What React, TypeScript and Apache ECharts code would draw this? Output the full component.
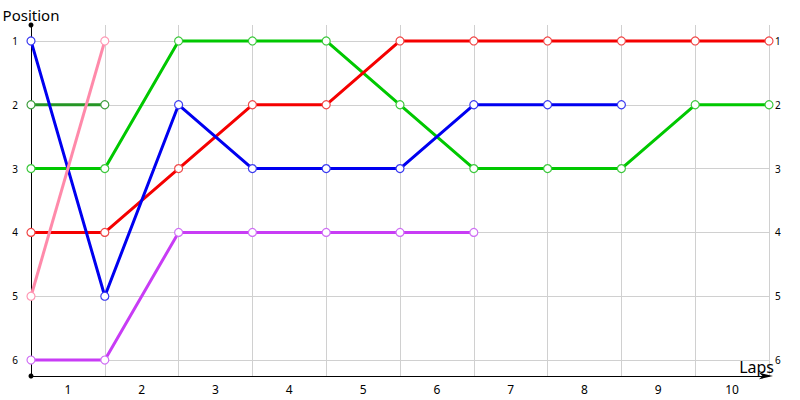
import React, { useEffect, useRef } from 'react';
import * as echarts from 'echarts';

const laps = ['1', '2', '3', '4', '5', '6', '7', '8', '9', '10'];
const positions = [1, 2, 3, 4, 5, 6];

// position after each lap boundary (index 0 = start)
const greenPos = [3, 3, 1, 1, 1, 2, 3, 3, 3, 2, 2];
const darkGreenPos = [2, 2];
const redPos = [4, 4, 3, 2, 2, 1, 1, 1, 1, 1, 1];
const bluePos = [1, 5, 2, 3, 3, 3, 2, 2, 2];
const purplePos = [6, 6, 4, 4, 4, 4, 4];
const pinkPos = [5, 1];

const FONT = 'Noto Sans';

function makeLine(name: string, vals: number[], color: string, dot: string) {
  return {
    name,
    type: 'line',
    xAxisIndex: 0,
    yAxisIndex: 0,
    data: vals.map((v, i) => [i, v]),
    symbol: 'circle',
    symbolSize: 8,
    lineStyle: { color, width: 3 },
    itemStyle: { color: '#fff', borderColor: dot, borderWidth: 1.2 },
    emphasis: { disabled: true },
  };
}

export default function App() {
  const ref = useRef<HTMLDivElement>(null);
  useEffect(() => {
    document.body.style.margin = '0';
    if (!ref.current) return;
    const chart = echarts.init(ref.current, null, { renderer: 'svg' });
    const yBase = {
      type: 'value',
      min: 0.75,
      max: 6.25,
      inverse: true,
      axisTick: { show: false, customValues: positions },
    };
    chart.setOption({
      animation: false,
      grid: { left: 31, right: 31, top: 25, bottom: 24, outerBoundsMode: 'none' },
      xAxis: [
        {
          type: 'value',
          min: 0,
          max: 10,
          interval: 1,
          position: 'bottom',
          name: 'Laps',
          nameLocation: 'end',
          nameGap: 5,
          nameMoveOverlap: false,
          nameTextStyle: {
            fontFamily: FONT,
            fontSize: 16,
            color: '#000',
            align: 'right',
            verticalAlign: 'bottom',
            padding: [0, 0, 1, 0],
          },
          axisLine: {
            lineStyle: { color: '#000', width: 1 },
            symbol: ['none', 'arrow'],
            symbolSize: [5, 14],
            symbolOffset: [0, 4],
          },
          axisTick: { show: false },
          axisLabel: { show: false },
          splitLine: { show: true, lineStyle: { color: '#d0d0d0', width: 1 } },
        },
        {
          type: 'category',
          data: laps,
          position: 'bottom',
          boundaryGap: true,
          axisLine: { show: false },
          axisTick: { show: false },
          splitLine: { show: false },
          axisLabel: { color: '#000', fontFamily: FONT, fontSize: 12, margin: 7 },
        },
      ],
      yAxis: [
        {
          ...yBase,
          position: 'left',
          name: 'Position',
          nameLocation: 'start',
          nameGap: 10,
          nameMoveOverlap: false,
          nameTextStyle: {
            fontFamily: FONT,
            fontSize: 15,
            color: '#000',
            verticalAlign: 'middle',
          },
          axisLine: {
            show: true,
            lineStyle: { color: '#000', width: 1 },
            symbol: ['circle', 'circle'],
            symbolSize: [5, 5],
          },
          axisLabel: {
            customValues: positions,
            color: '#000',
            fontFamily: FONT,
            fontSize: 10,
            margin: 13,
          },
          splitLine: { show: true, lineStyle: { color: '#d0d0d0', width: 1 } },
        },
        {
          ...yBase,
          position: 'right',
          axisLine: { show: false },
          axisLabel: {
            customValues: positions,
            color: '#000',
            fontFamily: FONT,
            fontSize: 10,
            margin: 6,
          },
          splitLine: { show: false },
        },
      ],
      series: [
        makeLine('Green', greenPos, '#00c800', '#3cc83c'),
        makeLine('Dark green', darkGreenPos, '#259625', '#40a040'),
        makeLine('Red', redPos, '#f50000', '#f04848'),
        makeLine('Blue', bluePos, '#0000f0', '#3a3af0'),
        makeLine('Purple', purplePos, '#c83cf5', '#d070f5'),
        makeLine('Pink', pinkPos, '#ff8aaa', '#ff99b5'),
      ],
    });
    return () => {
      chart.dispose();
    };
  }, []);
  return <div ref={ref} style={{ width: 800, height: 400 }} />;
}
